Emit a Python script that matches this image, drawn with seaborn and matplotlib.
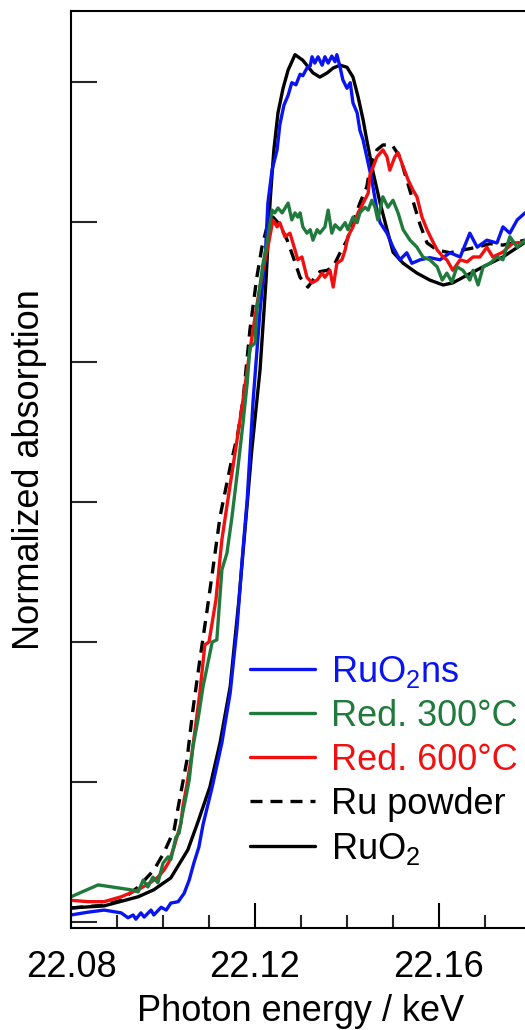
import numpy as np
import pandas as pd
import matplotlib
matplotlib.use("Agg")
import matplotlib.pyplot as plt
from matplotlib.ticker import MultipleLocator, FixedLocator, FormatStrFormatter
from matplotlib.lines import Line2D
import seaborn as sns

# ---------------- data (energy in eV, normalized absorption) ----------------
ruo2_e = [22080.0, 22087.2, 22094.6, 22098.0, 22101.7, 22105.4, 22107.6, 22110.2, 22112.4, 22114.6,
          22116.5, 22118.0, 22119.3, 22121.1, 22122.4, 22123.3, 22124.1, 22125.0, 22126.1, 22127.2,
          22128.7, 22130.4, 22132.6, 22134.1, 22135.7, 22137.0, 22138.5, 22140.0, 22141.3, 22142.4,
          22143.5, 22144.3, 22145.7, 22147.2, 22148.7, 22150.0, 22152.2, 22155.2, 22158.0, 22160.9,
          22163.0, 22166.1, 22169.6, 22173.9, 22178.7]
ruo2_a = [0.020, 0.023, 0.036, 0.046, 0.063, 0.103, 0.143, 0.193, 0.256, 0.336,
          0.460, 0.574, 0.674, 0.789, 0.917, 1.031, 1.103, 1.156, 1.191, 1.217,
          1.239, 1.231, 1.213, 1.207, 1.213, 1.220, 1.224, 1.221, 1.207, 1.179,
          1.146, 1.117, 1.070, 1.027, 0.989, 0.957, 0.941, 0.927, 0.917, 0.910,
          0.913, 0.924, 0.936, 0.950, 0.971]

ns_e = [22080.0, 22083.7, 22087.2, 22090.9, 22092.4, 22093.5, 22094.1, 22095.2, 22095.9, 22097.4,
        22098.0, 22099.6, 22100.7, 22101.7, 22103.3, 22104.6, 22105.7, 22106.7, 22107.8, 22108.7,
        22110.7, 22112.8, 22114.6, 22116.1, 22117.2, 22118.3, 22119.6, 22121.1, 22122.2, 22122.8,
        22123.7, 22124.8, 22125.4, 22126.3, 22127.2, 22128.0, 22128.9, 22129.8, 22130.4, 22131.3,
        22132.0, 22132.4, 22133.0, 22133.7, 22134.6, 22135.2, 22135.9, 22136.7, 22137.4, 22137.8,
        22138.5, 22139.1, 22140.0, 22140.7, 22141.3, 22142.2, 22142.8, 22143.5, 22144.3, 22145.4,
        22146.5, 22147.2, 22148.7, 22150.0, 22151.5, 22153.0, 22154.1, 22155.9, 22158.0, 22160.2,
        22162.4, 22164.6, 22166.7, 22168.3, 22170.4, 22172.6, 22173.9, 22175.4, 22177.0, 22178.7]
ns_a = [0.010, 0.014, 0.017, 0.013, 0.006, 0.010, 0.004, 0.013, 0.007, 0.017,
        0.010, 0.021, 0.017, 0.027, 0.029, 0.041, 0.060, 0.084, 0.107, 0.139,
        0.193, 0.256, 0.327, 0.421, 0.517, 0.603, 0.746, 0.874, 0.946, 1.027,
        1.074, 1.103, 1.139, 1.167, 1.181, 1.199, 1.196, 1.211, 1.209, 1.220,
        1.223, 1.236, 1.227, 1.236, 1.224, 1.236, 1.227, 1.237, 1.229, 1.239,
        1.221, 1.203, 1.191, 1.199, 1.170, 1.156, 1.131, 1.117, 1.093, 1.060,
        1.017, 0.999, 0.984, 0.964, 0.946, 0.956, 0.941, 0.946, 0.949, 0.946,
        0.956, 0.950, 0.984, 0.964, 0.974, 0.970, 0.993, 0.984, 1.003, 1.013]

ru_e = [22080.0, 22087.2, 22090.9, 22094.6, 22098.0, 22100.2, 22102.4, 22103.3, 22105.2, 22106.5,
        22108.0, 22109.6, 22110.9, 22112.4, 22114.6, 22116.3, 22117.4, 22118.9, 22120.4, 22121.5,
        22122.6, 22123.9, 22125.4, 22127.0, 22128.3, 22129.8, 22131.5, 22132.6, 22134.1, 22135.7,
        22137.0, 22138.5, 22140.0, 22141.3, 22142.8, 22144.3, 22145.0, 22146.5, 22147.8, 22149.8,
        22151.5, 22153.0, 22154.3, 22155.9, 22157.4, 22159.6, 22162.4, 22165.2, 22168.3, 22171.1,
        22173.9, 22178.7]
ru_a = [0.020, 0.024, 0.031, 0.050, 0.074, 0.099, 0.131, 0.164, 0.231, 0.303,
        0.374, 0.446, 0.507, 0.579, 0.650, 0.699, 0.746, 0.846, 0.921, 0.964,
        0.993, 1.007, 0.996, 0.974, 0.950, 0.921, 0.907, 0.917, 0.929, 0.931,
        0.936, 0.956, 0.974, 0.999, 1.027, 1.050, 1.077, 1.103, 1.110, 1.110,
        1.093, 1.060, 1.031, 0.996, 0.970, 0.960, 0.956, 0.960, 0.964, 0.969,
        0.967, 0.974]

r600_e = [22080.0, 22083.7, 22087.2, 22090.9, 22094.6, 22097.4, 22098.9, 22100.2, 22101.3, 22102.4,
          22103.9, 22104.3, 22105.2, 22106.3, 22108.0, 22109.1, 22110.0, 22111.5, 22112.8, 22114.1,
          22116.1, 22117.4, 22118.9, 22120.4, 22121.7, 22122.8, 22123.9, 22124.8, 22125.4, 22126.5,
          22127.6, 22128.7, 22129.3, 22130.2, 22131.3, 22132.4, 22133.5, 22134.6, 22135.2, 22136.3,
          22137.0, 22137.8, 22138.9, 22139.6, 22140.2, 22141.3, 22142.4, 22143.5, 22144.6, 22145.0,
          22146.5, 22147.8, 22148.7, 22149.3, 22150.4, 22151.1, 22152.2, 22153.3, 22154.3, 22155.2,
          22156.3, 22157.4, 22158.5, 22159.6, 22160.9, 22161.7, 22163.0, 22164.6, 22166.1, 22167.4,
          22168.9, 22170.4, 22171.7, 22173.9, 22176.1, 22178.7]
r600_a = [0.031, 0.029, 0.029, 0.036, 0.046, 0.057, 0.064, 0.074, 0.086, 0.107,
          0.141, 0.164, 0.196, 0.241, 0.327, 0.396, 0.400, 0.460, 0.546, 0.603,
          0.689, 0.746, 0.817, 0.881, 0.931, 0.964, 1.003, 0.993, 0.999, 0.979,
          0.984, 0.960, 0.946, 0.950, 0.921, 0.913, 0.917, 0.927, 0.921, 0.931,
          0.907, 0.941, 0.946, 0.960, 0.979, 0.993, 1.013, 1.027, 1.041, 1.067,
          1.093, 1.103, 1.093, 1.074, 1.093, 1.099, 1.079, 1.060, 1.046, 1.036,
          1.007, 0.989, 0.974, 0.960, 0.950, 0.946, 0.931, 0.946, 0.943, 0.950,
          0.950, 0.964, 0.950, 0.957, 0.970, 0.971]

r300_e = [22080.0, 22085.9, 22093.0, 22094.6, 22095.7, 22096.7, 22097.8, 22098.9, 22100.0, 22101.1,
          22101.7, 22102.8, 22103.5, 22104.1, 22105.0, 22105.7, 22106.5, 22107.6, 22108.7, 22110.7,
          22111.7, 22112.8, 22113.9, 22115.0, 22116.3, 22117.4, 22118.3, 22118.9, 22120.0, 22120.4,
          22121.7, 22122.6, 22123.7, 22124.3, 22125.0, 22125.9, 22127.2, 22128.0, 22128.7, 22129.3,
          22129.8, 22130.4, 22131.3, 22132.0, 22132.6, 22133.5, 22134.1, 22135.2, 22135.9, 22136.7,
          22137.4, 22138.5, 22139.6, 22140.2, 22141.3, 22142.2, 22142.8, 22143.9, 22144.6, 22145.4,
          22146.1, 22146.7, 22147.8, 22148.9, 22150.0, 22151.1, 22152.2, 22153.7, 22155.2, 22156.5,
          22158.0, 22159.6, 22160.7, 22161.7, 22162.8, 22163.9, 22165.2, 22166.7, 22167.4, 22168.5,
          22169.6, 22171.1, 22172.6, 22173.9, 22175.4, 22177.0, 22178.7]
r300_a = [0.036, 0.053, 0.046, 0.043, 0.060, 0.050, 0.064, 0.056, 0.084, 0.093,
          0.089, 0.121, 0.127, 0.150, 0.179, 0.203, 0.250, 0.289, 0.336, 0.400,
          0.403, 0.503, 0.527, 0.579, 0.650, 0.713, 0.770, 0.821, 0.827, 0.874,
          0.939, 0.970, 1.017, 1.013, 1.020, 1.013, 1.027, 1.003, 1.013, 1.007,
          1.013, 0.993, 0.984, 0.989, 0.974, 0.989, 0.984, 0.993, 1.017, 0.984,
          0.996, 0.989, 0.999, 0.989, 1.007, 0.999, 1.013, 1.021, 1.017, 1.031,
          1.021, 1.003, 1.036, 1.021, 1.031, 1.013, 0.989, 0.974, 0.964, 0.950,
          0.946, 0.936, 0.917, 0.927, 0.914, 0.936, 0.931, 0.917, 0.931, 0.910,
          0.936, 0.941, 0.950, 0.946, 0.979, 0.964, 0.974]

series_labels = [r"RuO$_\mathregular{2}$ns", "Red. 300°C", "Red. 600°C", "Ru powder",
                 r"RuO$_\mathregular{2}$"]
x_ticks = [22.08, 22.12, 22.16, 22.20]
y_ticks = [0.0, 0.2, 0.4, 0.6, 0.8, 1.0, 1.2]

# ---------------- style ----------------
sns.set_theme(style="ticks")
plt.rcParams["font.family"] = ["Liberation Sans", "DejaVu Sans"]
plt.rcParams["mathtext.fontset"] = "custom"
plt.rcParams["mathtext.rm"] = "Liberation Sans"
plt.rcParams["mathtext.it"] = "Liberation Sans:italic"
plt.rcParams["mathtext.bf"] = "Liberation Sans:bold"

FS = 26
BLUE = "#0a14f0"
GREEN = "#1f7a3c"
RED = "#f01010"
BLACK = "#000000"
DASH = (0, (3.6, 2.4))

fig = plt.figure(figsize=(5.25, 10.30), dpi=100)
ax = fig.add_axes([71 / 525, 102 / 1030, 460 / 525, 917 / 1030])

def frame(e, a, name):
    return pd.DataFrame({"E": np.asarray(e) / 1000.0, "A": a, "s": name})

lw = 2.4
sns.lineplot(data=frame(ruo2_e, ruo2_a, "RuO2"), x="E", y="A", ax=ax, color=BLACK,
             lw=lw, estimator=None, sort=False)
sns.lineplot(data=frame(ru_e, ru_a, "Ru"), x="E", y="A", ax=ax, color=BLACK,
             lw=lw, estimator=None, sort=False, linestyle=DASH)
sns.lineplot(data=frame(ns_e, ns_a, "ns"), x="E", y="A", ax=ax, color=BLUE,
             lw=lw, estimator=None, sort=False)
sns.lineplot(data=frame(r600_e, r600_a, "600"), x="E", y="A", ax=ax, color=RED,
             lw=lw, estimator=None, sort=False)
sns.lineplot(data=frame(r300_e, r300_a, "300"), x="E", y="A", ax=ax, color=GREEN,
             lw=lw, estimator=None, sort=False)

ax.set_xlim(22.08, 22.18)
ax.set_ylim(-0.0086, 1.3014)

ax.xaxis.set_major_locator(FixedLocator(x_ticks))
ax.xaxis.set_minor_locator(MultipleLocator(0.01))
ax.xaxis.set_major_formatter(FormatStrFormatter("%.2f"))
ax.yaxis.set_major_locator(FixedLocator(y_ticks))
ax.set_yticklabels([])

ax.tick_params(axis="x", which="major", direction="in", length=18, width=1.5,
               labelsize=FS, pad=16, colors=BLACK, top=False)
ax.tick_params(axis="x", which="minor", direction="in", length=9.5, width=1.5, top=False)
ax.tick_params(axis="y", which="major", direction="in", length=19, width=1.5,
               labelleft=False, right=False)

for side in ["left", "bottom", "top", "right"]:
    ax.spines[side].set_linewidth(1.5)
    ax.spines[side].set_color(BLACK)
    ax.spines[side].set_visible(True)

ax.set_xlabel("Photon energy / keV", fontsize=FS, labelpad=6, color=BLACK)
ax.set_ylabel("Normalized absorption", fontsize=FS, labelpad=17, color=BLACK)

# legend
handles = [Line2D([], [], color=BLUE, lw=lw),
           Line2D([], [], color=GREEN, lw=lw),
           Line2D([], [], color=RED, lw=lw),
           Line2D([], [], color=BLACK, lw=lw, linestyle=DASH),
           Line2D([], [], color=BLACK, lw=lw)]
leg = fig.legend(handles, series_labels, loc="upper left",
                 bbox_to_anchor=(250 / 525, 1 - 654 / 1030), frameon=False,
                 fontsize=FS, handlelength=1.8, handletextpad=0.45,
                 labelspacing=0.25, borderpad=0, borderaxespad=0)
for txt, c in zip(leg.get_texts(), [BLUE, GREEN, RED, BLACK, BLACK]):
    txt.set_color(c)

fig.savefig("out.png", dpi=100)
